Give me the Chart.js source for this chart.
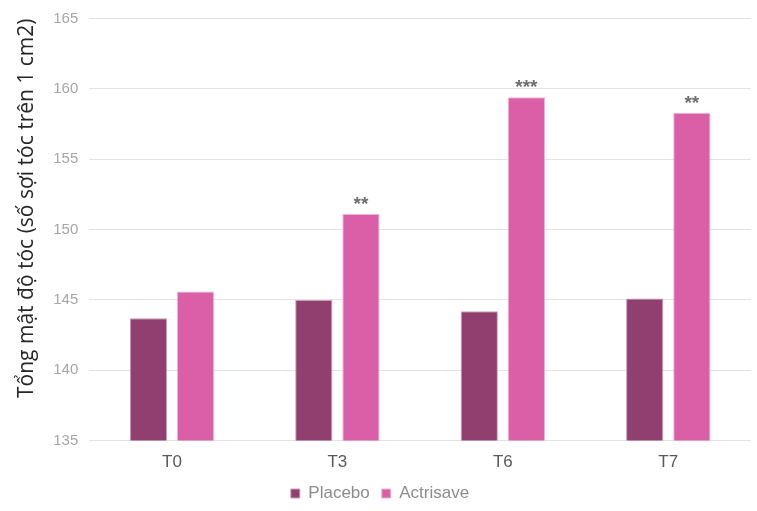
<!DOCTYPE html>
<html>
<head>
<meta charset="utf-8">
<script src="https://cdn.jsdelivr.net/npm/chart.js@4"></script>
<style>
    html, body { margin: 0; padding: 0; background: #fff; }
    #wrap { width: 757px; height: 511px; }
</style>
</head>
<body>
<div id="wrap"><canvas id="hairChart"></canvas></div>
<script>
    const categories = ['T0', 'T3', 'T6', 'T7'];
    const placeboValues = [143.7, 145.0, 144.2, 145.1];
    const actrisaveValues = [145.6, 151.1, 159.4, 158.3];
    const significance = ['', '**', '***', '**'];
    const yTicks = [135, 140, 145, 150, 155, 160, 165];

    // stars above the Actrisave bars
    const starsPlugin = {
        id: 'stars',
        afterDatasetsDraw: function (chart) {
            const ctx = chart.ctx;
            const meta = chart.getDatasetMeta(1);
            ctx.save();
            ctx.fillStyle = '#6f6f6f';
            ctx.font = 'bold 19px "Liberation Sans", Arial, sans-serif';
            ctx.textAlign = 'center';
            ctx.textBaseline = 'bottom';
            meta.data.forEach(function (bar, i) {
                if (significance[i]) {
                    ctx.fillText(significance[i], bar.x, bar.y);
                }
            });
            ctx.restore();
        }
    };

    new Chart(document.getElementById('hairChart'), {
        type: 'bar',
        data: {
            labels: categories,
            datasets: [{
                label: 'Placebo',
                data: placeboValues,
                backgroundColor: '#913f6e',
                borderColor: '#c9a0b8',
                borderWidth: 1,
                categoryPercentage: 0.57,
                barPercentage: 0.79
            }, {
                label: 'Actrisave',
                data: actrisaveValues,
                backgroundColor: '#da5fa6',
                borderColor: '#eeb3d5',
                borderWidth: 1,
                categoryPercentage: 0.57,
                barPercentage: 0.79
            }]
        },
        options: {
            responsive: true,
            maintainAspectRatio: false,
            animation: false,
            layout: { padding: { top: 3, right: 6, left: 9, bottom: -1 } },
            plugins: {
                legend: {
                    position: 'bottom',
                    labels: {
                        boxWidth: 9,
                        boxHeight: 9,
                        padding: 12,
                        color: '#8c8c8c',
                        font: { size: 17, family: '"Liberation Sans", Arial, sans-serif' }
                    }
                },
                tooltip: { enabled: false }
            },
            scales: {
                x: {
                    grid: { display: false },
                    border: { display: false },
                    afterFit: function (axis) {
                        axis.height -= 4;
                    },
                    ticks: {
                        color: '#595959',
                        font: { size: 17, family: '"Liberation Sans", Arial, sans-serif' },
                        padding: 4
                    }
                },
                y: {
                    min: yTicks[0],
                    max: yTicks[yTicks.length - 1],
                    afterBuildTicks: function (axis) {
                        axis.ticks = yTicks.map(function (v) { return { value: v }; });
                    },
                    grid: { color: '#e2e2e2', lineWidth: 1, drawTicks: false },
                    border: { display: false },
                    ticks: {
                        color: '#a6a6a6',
                        font: { size: 15, lineHeight: 1, family: '"Liberation Sans", Arial, sans-serif' },
                        padding: 11
                    },
                    title: {
                        display: true,
                        align: 'end',
                        text: 'Tổng mật độ tóc (số sợi tóc trên 1 cm2)',
                        color: '#262626',
                        font: { size: 21, family: '"Open Sans", "Noto Sans", sans-serif' },
                        padding: { top: 5, bottom: 3 }
                    }
                }
            }
        },
        plugins: [starsPlugin]
    });
</script>
</body>
</html>
